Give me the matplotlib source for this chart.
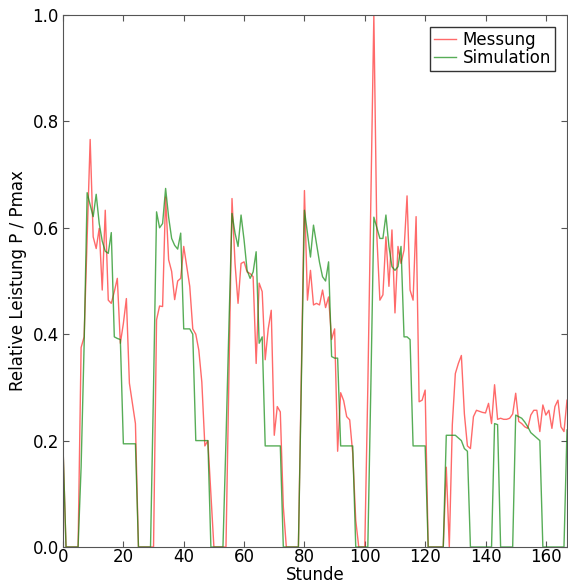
import matplotlib
matplotlib.use("Agg")
import matplotlib.pyplot as plt
import numpy as np

hours = list(range(168))

messung = [
    0.19, 0, 0, 0, 0, 0, 0.375, 0.395, 0.58, 0.766,
    0.583, 0.561, 0.599, 0.483, 0.633, 0.464, 0.458, 0.48, 0.505, 0.383,
    0.42, 0.467, 0.308, 0.27, 0.232, 0, 0, 0, 0, 0,
    0, 0.427, 0.453, 0.452, 0.658, 0.54, 0.518, 0.465, 0.50, 0.505,
    0.565, 0.527, 0.49, 0.41, 0.40, 0.37, 0.31, 0.19, 0.20, 0.10,
    0, 0, 0, 0, 0, 0.33, 0.655, 0.533, 0.458, 0.533,
    0.536, 0.517, 0.514, 0.508, 0.345, 0.496, 0.48, 0.352, 0.41, 0.445,
    0.21, 0.264, 0.254, 0.076, 0, 0, 0, 0, 0, 0.34,
    0.67, 0.464, 0.52, 0.455, 0.458, 0.455, 0.483, 0.45, 0.47, 0.39,
    0.41, 0.18, 0.29, 0.275, 0.245, 0.239, 0.176, 0.05, 0, 0,
    0, 0.3, 0.65, 1.0, 0.583, 0.464, 0.474, 0.583, 0.49, 0.596,
    0.44, 0.565, 0.533, 0.558, 0.66, 0.483, 0.464, 0.621, 0.273, 0.276,
    0.295, 0, 0, 0, 0, 0, 0, 0.15, 0, 0.23,
    0.326, 0.345, 0.36, 0.25, 0.19, 0.185, 0.245, 0.257, 0.255, 0.253,
    0.252, 0.27, 0.232, 0.305, 0.24, 0.242, 0.24, 0.24, 0.242, 0.25,
    0.289, 0.236, 0.232, 0.226, 0.223, 0.248, 0.257, 0.257, 0.217, 0.267,
    0.248, 0.257, 0.223, 0.264, 0.276, 0.226, 0.217, 0.276,
]

simulation = [
    0.19, 0, 0, 0, 0, 0, 0.15, 0.38, 0.666, 0.643,
    0.621, 0.663, 0.608, 0.575, 0.556, 0.552, 0.591, 0.395, 0.392, 0.39,
    0.194, 0.194, 0.194, 0.194, 0.194, 0, 0, 0, 0, 0,
    0.3, 0.63, 0.60, 0.608, 0.674, 0.62, 0.58, 0.567, 0.56, 0.59,
    0.41, 0.41, 0.41, 0.40, 0.20, 0.20, 0.20, 0.20, 0.20, 0,
    0, 0, 0, 0, 0.2, 0.42, 0.627, 0.59, 0.565, 0.624,
    0.577, 0.52, 0.505, 0.517, 0.555, 0.383, 0.395, 0.19, 0.19, 0.19,
    0.19, 0.19, 0.19, 0, 0, 0, 0, 0, 0, 0.32,
    0.633, 0.59, 0.545, 0.605, 0.57, 0.535, 0.508, 0.50, 0.536, 0.358,
    0.355, 0.355, 0.19, 0.19, 0.19, 0.19, 0.19, 0, 0, 0,
    0, 0, 0.3, 0.62, 0.60, 0.58, 0.58, 0.624, 0.565, 0.527,
    0.52, 0.527, 0.565, 0.395, 0.395, 0.39, 0.19, 0.19, 0.19, 0.19,
    0.19, 0, 0, 0, 0, 0, 0, 0.21, 0.21, 0.21,
    0.21, 0.205, 0.2, 0.185, 0.18, 0, 0, 0, 0, 0,
    0, 0, 0, 0.232, 0.23, 0, 0, 0, 0, 0,
    0.248, 0.245, 0.242, 0.235, 0.226, 0.215, 0.21, 0.205, 0.2, 0,
    0, 0, 0, 0, 0, 0, 0, 0.22,
]

xticks = [0, 20, 40, 60, 80, 100, 120, 140, 160]
yticks = [0.0, 0.2, 0.4, 0.6, 0.8, 1.0]

fig = plt.figure(figsize=(5.68, 5.83), dpi=100)
ax = fig.add_axes([63/568, 1 - 547/583, (567 - 63)/568, (547 - 15)/583])

ax.plot(hours, messung, color="#ff3030", alpha=0.72, lw=1.0, label="Messung")
ax.plot(hours, simulation, color="#108a10", alpha=0.7, lw=1.0, label="Simulation")

ax.set_xlim(0, 167)
ax.set_ylim(0, 1.0)
ax.set_xticks(xticks)
ax.set_yticks(yticks)
ax.set_yticklabels([f"{v:.1f}" for v in yticks])
ax.tick_params(direction="in", top=True, right=True, labelsize=12, length=4,
               color="#555555")
ax.tick_params(axis="x", pad=1)
ax.tick_params(axis="y", pad=3)
for s in ax.spines.values():
    s.set_color("#555555")
ax.set_xlabel("Stunde", fontsize=12, labelpad=0)
ax.set_ylabel("Relative Leistung P / Pmax", fontsize=12, labelpad=4)

leg = ax.legend(loc="upper right", fontsize=12, handlelength=1.3,
                handletextpad=0.4, borderpad=0.25, labelspacing=0.0,
                fancybox=False, framealpha=1, borderaxespad=0.7)
leg.get_frame().set_edgecolor("#333333")

fig.savefig("out.png", dpi=100)
